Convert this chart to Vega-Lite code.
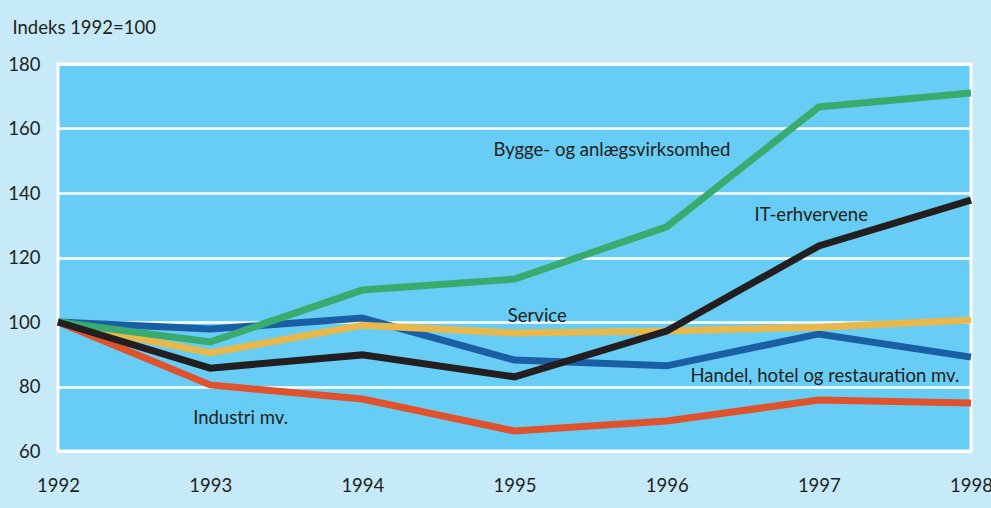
{
  "$schema": "https://vega.github.io/schema/vega-lite/v6.json",
  "width": 913,
  "height": 387,
  "autosize": "none",
  "padding": {"left": 58, "top": 64, "right": 20, "bottom": 57},
  "background": "#c7eaf8",
  "config": {
    "font": "Lato",
    "view": {"fill": "#68cdf4", "stroke": "white", "strokeWidth": 3}
  },
  "datasets": {
    "series": [
      {"serie": "Handel", "year": 1992, "value": 100},
      {"serie": "Handel", "year": 1993, "value": 97.8},
      {"serie": "Handel", "year": 1994, "value": 101.2},
      {"serie": "Handel", "year": 1995, "value": 88.2},
      {"serie": "Handel", "year": 1996, "value": 86.4},
      {"serie": "Handel", "year": 1997, "value": 96.3},
      {"serie": "Handel", "year": 1998, "value": 89.1},
      {"serie": "Service", "year": 1992, "value": 100},
      {"serie": "Service", "year": 1993, "value": 90.4},
      {"serie": "Service", "year": 1994, "value": 99},
      {"serie": "Service", "year": 1995, "value": 96.6},
      {"serie": "Service", "year": 1996, "value": 97.2},
      {"serie": "Service", "year": 1997, "value": 98.4},
      {"serie": "Service", "year": 1998, "value": 100.6},
      {"serie": "Industri", "year": 1992, "value": 100},
      {"serie": "Industri", "year": 1993, "value": 80.5},
      {"serie": "Industri", "year": 1994, "value": 76.1},
      {"serie": "Industri", "year": 1995, "value": 66.2},
      {"serie": "Industri", "year": 1996, "value": 69.3},
      {"serie": "Industri", "year": 1997, "value": 75.8},
      {"serie": "Industri", "year": 1998, "value": 74.9},
      {"serie": "Bygge", "year": 1992, "value": 100},
      {"serie": "Bygge", "year": 1993, "value": 93.8},
      {"serie": "Bygge", "year": 1994, "value": 109.9},
      {"serie": "Bygge", "year": 1995, "value": 113.3},
      {"serie": "Bygge", "year": 1996, "value": 129.5},
      {"serie": "Bygge", "year": 1997, "value": 166.7},
      {"serie": "Bygge", "year": 1998, "value": 171},
      {"serie": "IT", "year": 1992, "value": 100},
      {"serie": "IT", "year": 1993, "value": 85.7},
      {"serie": "IT", "year": 1994, "value": 89.8},
      {"serie": "IT", "year": 1995, "value": 83},
      {"serie": "IT", "year": 1996, "value": 97.2},
      {"serie": "IT", "year": 1997, "value": 123.6},
      {"serie": "IT", "year": 1998, "value": 137.8}
    ],
    "labels": [
      {"label": "Bygge- og anlægsvirksomhed", "year": 1995.64, "value": 153.3},
      {"label": "IT-erhvervene", "year": 1996.95, "value": 133.2},
      {"label": "Service", "year": 1995.15, "value": 101.9},
      {"label": "Handel, hotel og restauration mv.", "year": 1997.04, "value": 83.4},
      {"label": "Industri mv.", "year": 1993.2, "value": 70.2}
    ]
  },
  "encoding": {
    "x": {
      "field": "year", "type": "quantitative",
      "scale": {"domain": [1992, 1998], "nice": false, "zero": false},
      "axis": {
        "values": [1992, 1993, 1994, 1995, 1996, 1997, 1998],
        "format": "d", "title": null, "grid": false, "domain": false, "ticks": false,
        "labelFontSize": 18.5, "labelColor": "#231f20", "labelPadding": 25,
        "labelFlush": false, "labelOverlap": false
      }
    },
    "y": {
      "field": "value", "type": "quantitative",
      "scale": {"domain": [60, 180], "nice": false, "zero": false},
      "axis": {
        "values": [60, 80, 100, 120, 140, 160, 180],
        "title": "Indeks 1992=100", "titleAngle": 0, "titleAlign": "left",
        "titleBaseline": "alphabetic", "titleX": -46, "titleY": -31,
        "titleFontSize": 18.5, "titleFontWeight": "normal", "titleColor": "#231f20",
        "grid": true, "gridColor": "white", "gridWidth": 2.5, "gridOpacity": 1,
        "domain": false, "ticks": false,
        "labelFontSize": 18.5, "labelColor": "#231f20", "labelPadding": 18,
        "labelFlush": false
      }
    }
  },
  "layer": [
    {
      "data": {"name": "series"},
      "mark": {"type": "line", "strokeWidth": 7, "strokeJoin": "miter", "strokeCap": "butt"},
      "encoding": {
        "color": {
          "field": "serie", "type": "nominal", "legend": null,
          "scale": {
            "domain": ["Handel", "Service", "Industri", "Bygge", "IT"],
            "range": ["#1a5fa6", "#e8b84b", "#e0522b", "#3aab6f", "#231f20"]
          }
        }
      }
    },
    {
      "data": {"name": "labels"},
      "mark": {"type": "text", "fontSize": 18.5, "color": "#231f20", "align": "center", "baseline": "middle"},
      "encoding": {"text": {"field": "label"}}
    }
  ]
}
